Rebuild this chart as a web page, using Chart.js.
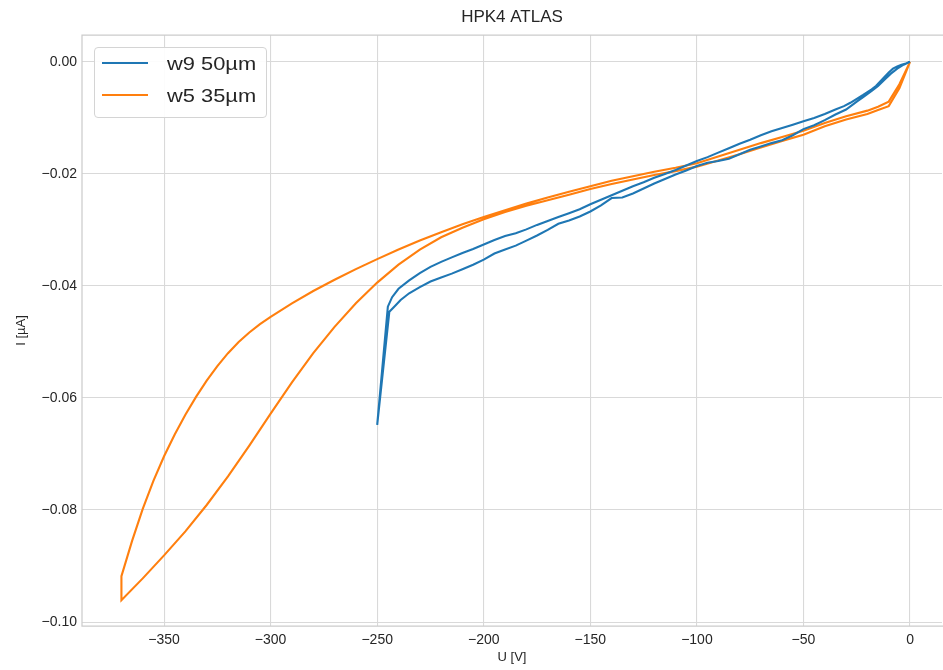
<!DOCTYPE html>
<html>
<head>
<meta charset="utf-8">
<script src="https://cdn.jsdelivr.net/npm/chart.js@4.4.0/dist/chart.umd.min.js"></script>
<style>
  body { margin: 0; background: #fff; }
  #wrap { position: relative; width: 943px; height: 670px; }
  .legend {
    position: absolute; left: 94px; top: 47px; width: 171px; height: 69px;
    border: 1px solid #d4d4d4; border-radius: 4px; background: rgba(255,255,255,0.9);
    font-family: "Liberation Sans", Arial, sans-serif; font-size: 19px; color: #262626;
  }
  .legend .row { position: absolute; left: 7px; height: 24px; display: flex; align-items: center; white-space: nowrap; }
  .legend .swatch { width: 46px; height: 2.5px; margin-right: 19px; }
  .legend .txt { position: relative; top: 1px; display: inline-block; transform: scaleX(1.15); transform-origin: left center; }
</style>
</head>
<body>
<div id="wrap">
  <canvas id="myChart" width="943" height="670"></canvas>
  <div class="legend">
    <div class="row" style="top:3px"><span class="swatch" style="background:#1f77b4"></span><span class="txt">w9 50µm</span></div>
    <div class="row" style="top:35px"><span class="swatch" style="background:#ff7f0e"></span><span class="txt">w5 35µm</span></div>
  </div>
</div>
<script>
const chartTitle = "HPK4 ATLAS";
const xLabel = "U [V]";
const yLabel = "I [µA]";
const xTicks = [-350, -300, -250, -200, -150, -100, -50, 0];
const yTicks = [-0.10, -0.08, -0.06, -0.04, -0.02, 0.00];

// w9 50µm: ramp 0 -> -250 V and back
const w9U = [
  0, -2, -4, -6, -8, -10, -12, -14, -16, -18,
  -20, -22, -25, -28, -31, -35, -40, -45, -50, -55,
  -60, -65, -70, -75, -80, -85, -90, -95, -100, -105,
  -110, -115, -120, -125, -130, -135, -140, -145, -150, -155,
  -160, -165, -170, -175, -180, -185, -190, -195, -200, -205,
  -210, -215, -220, -225, -230, -235, -240, -243, -245, -250,
  -244.3, -242, -239, -235, -230, -225, -220, -215, -210, -205,
  -200, -195, -190, -185, -180, -175, -170, -165, -160, -155,
  -150, -145, -140, -135, -130, -125, -120, -115, -110, -105,
  -100, -95, -90, -85, -80, -75, -70, -65, -60, -55,
  -50, -45, -40, -35, -30, -25, -22, -18, -15, -12,
  -9, -6, -3, 0
];
const w9I = [
  0, -0.0003, -0.0005, -0.0008, -0.0012, -0.0019, -0.0027, -0.0035, -0.0043, -0.0049,
  -0.0054, -0.0059, -0.0066, -0.0073, -0.0079, -0.0085, -0.0093, -0.0100, -0.0106, -0.0112,
  -0.0118, -0.0124, -0.0131, -0.0139, -0.0146, -0.0154, -0.0162, -0.0170, -0.0177, -0.0185,
  -0.0193, -0.0200, -0.0207, -0.0215, -0.0222, -0.0230, -0.0238, -0.0246, -0.0254, -0.0263,
  -0.0270, -0.0277, -0.0284, -0.0291, -0.0299, -0.0306, -0.0311, -0.0318, -0.0326, -0.0334,
  -0.0341, -0.0349, -0.0357, -0.0366, -0.0377, -0.0390, -0.0405, -0.0420, -0.0437, -0.0648,
  -0.0446, -0.0437, -0.0425, -0.0413, -0.0402, -0.0392, -0.0385, -0.0378, -0.0370, -0.0362,
  -0.0353, -0.0342, -0.0335, -0.0328, -0.0319, -0.0310, -0.0300, -0.0289, -0.0283, -0.0276,
  -0.0267, -0.0256, -0.0243, -0.0242, -0.0235, -0.0226, -0.0217, -0.0209, -0.0201, -0.0194,
  -0.0186, -0.0180, -0.0177, -0.0173, -0.0165, -0.0157, -0.0151, -0.0145, -0.0140, -0.0131,
  -0.0120, -0.0113, -0.0104, -0.0094, -0.0085, -0.0071, -0.0063, -0.0052, -0.0043, -0.0032,
  -0.0021, -0.0012, -0.0005, 0
];

// w5 35µm: ramp 0 -> -370 V and back
const w5U = [
  0, -5, -10, -15, -20, -30, -40, -50, -60, -70,
  -80, -90, -100, -110, -120, -130, -140, -150, -160, -170,
  -180, -190, -200, -210, -220, -230, -240, -250, -260, -270,
  -280, -290, -300, -310, -320, -330, -340, -350, -360, -370,
  -370, -365, -360, -355, -350, -345, -340, -335, -330, -325,
  -320, -315, -310, -305, -300, -290, -280, -270, -260, -250,
  -240, -230, -220, -210, -200, -190, -180, -170, -160, -150,
  -140, -130, -120, -110, -100, -90, -80, -70, -60, -50,
  -40, -30, -20, -15, -10, -5, 0
];
const w5I = [
  0, -0.0047, -0.0079, -0.0086, -0.0093, -0.0103, -0.0115, -0.0130, -0.0141, -0.0153,
  -0.0165, -0.0176, -0.0187, -0.0195, -0.0202, -0.0210, -0.0218, -0.0227, -0.0237, -0.0247,
  -0.0257, -0.0268, -0.0281, -0.0296, -0.0313, -0.0335, -0.0362, -0.0394, -0.0431, -0.0473,
  -0.0520, -0.0572, -0.0628, -0.0685, -0.0740, -0.0791, -0.0838, -0.0881, -0.0922, -0.0961,
  -0.0918, -0.0855, -0.0798, -0.0748, -0.0704, -0.0665, -0.0630, -0.0598, -0.0569, -0.0543,
  -0.0520, -0.0500, -0.0483, -0.0468, -0.0455, -0.0431, -0.0409, -0.0389, -0.0370, -0.0352,
  -0.0335, -0.0319, -0.0304, -0.0290, -0.0277, -0.0265, -0.0253, -0.0242, -0.0232, -0.0222,
  -0.0212, -0.0204, -0.0196, -0.0189, -0.0181, -0.0169, -0.0157, -0.0145, -0.0134, -0.0123,
  -0.0109, -0.0097, -0.0087, -0.0080, -0.0071, -0.0040, 0
];

const font = "'Liberation Sans', Arial, sans-serif";
const textColor = "#262626";
const gridColor = "#d9d9d9";

function toPoints(us, is) {
  return us.map((u, i) => ({ x: u, y: is[i] }));
}
function minus(str) {
  return str.replace("-", "\u2212");
}

// light grey edges round the plot area (right edge is cut off in the original)
const framePlugin = {
  id: "frame",
  beforeDatasetsDraw(chart) {
    const { ctx, chartArea } = chart;
    ctx.save();
    ctx.strokeStyle = "#cccccc";
    ctx.lineWidth = 1.25;
    ctx.beginPath();
    ctx.moveTo(chartArea.right + 2, chartArea.top);
    ctx.lineTo(chartArea.left, chartArea.top);
    ctx.lineTo(chartArea.left, chartArea.bottom);
    ctx.lineTo(chartArea.right + 2, chartArea.bottom);
    ctx.stroke();
    ctx.restore();
  },
};

const ctx = document.getElementById("myChart").getContext("2d");
const myChart = new Chart(ctx, {
  type: "scatter",
  plugins: [framePlugin],
  data: {
    datasets: [
      {
        label: "w9 50µm",
        data: toPoints(w9U, w9I),
        showLine: true,
        borderColor: "#1f77b4",
        backgroundColor: "#1f77b4",
        borderWidth: 2.1,
        pointRadius: 0,
        tension: 0,
      },
      {
        label: "w5 35µm",
        data: toPoints(w5U, w5I),
        showLine: true,
        borderColor: "#ff7f0e",
        backgroundColor: "#ff7f0e",
        borderWidth: 2.1,
        pointRadius: 0,
        tension: 0,
      },
    ],
  },
  options: {
    responsive: false,
    animation: false,
    layout: { padding: { top: 0, left: 0, right: 1, bottom: 0 } },
    plugins: {
      legend: { display: false },
      tooltip: { enabled: false },
      title: {
        display: true,
        text: chartTitle,
        fullSize: false,
        color: textColor,
        font: { family: font, size: 17, weight: "normal", lineHeight: 1.2 },
        padding: { top: 7, bottom: 7.6 },
      },
    },
    scales: {
      x: {
        type: "linear",
        min: -388.5,
        max: 15,
        afterBuildTicks: (scale) => {
          scale.ticks = xTicks.map((v) => ({ value: v }));
        },
        afterFit: (scale) => {
          scale.height = 44;
        },
        border: { display: false },
        grid: { color: gridColor, lineWidth: 1.1, drawTicks: false },
        ticks: {
          color: textColor,
          padding: 6,
          maxRotation: 0,
          font: { family: font, size: 14 },
          callback: (v) => minus(String(v)),
        },
        title: {
          display: true,
          text: xLabel,
          color: textColor,
          font: { family: font, size: 13 },
          padding: { top: 0, bottom: 5 },
        },
      },
      y: {
        type: "linear",
        min: -0.1007,
        max: 0.0048,
        afterBuildTicks: (scale) => {
          scale.ticks = yTicks.map((v) => ({ value: v }));
        },
        afterFit: (scale) => {
          scale.width = 82;
        },
        border: { display: false },
        grid: { color: gridColor, lineWidth: 1.1, drawTicks: false },
        ticks: {
          color: textColor,
          padding: 5,
          font: { family: font, size: 14 },
          callback: (v) => minus(v.toFixed(2)),
        },
        title: {
          display: true,
          text: yLabel,
          color: textColor,
          font: { family: font, size: 13 },
          padding: { top: 14, bottom: 0 },
        },
      },
    },
  },
});
</script>
</body>
</html>
